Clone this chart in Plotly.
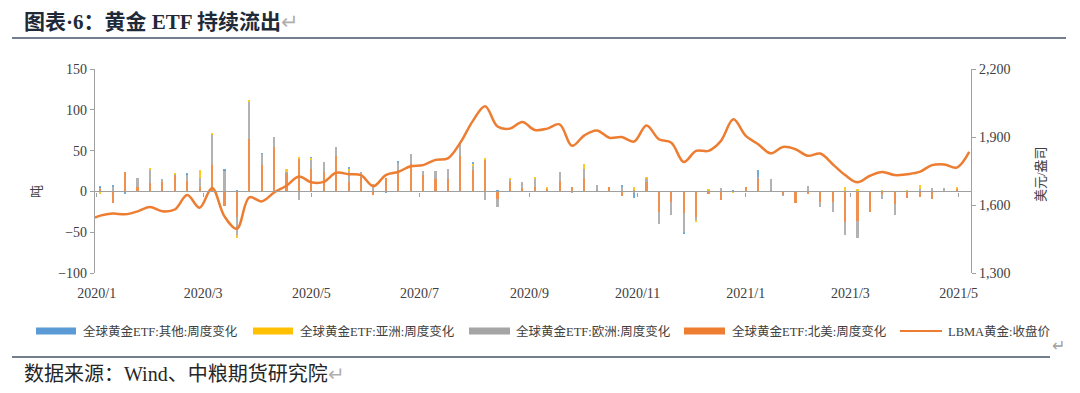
import pandas as pd
import plotly.graph_objects as go

# ---------------- data ----------------
week_dates = [d.strftime("%Y-%m-%d") for d in pd.date_range("2020-01-03", "2021-04-30", freq="7D")]

north_america = [3, -14, 24, 5, 10, 11, 20, 13, 6, 32, -18, -31, 64, 32,
                 55, 22, 40, 28, 24, 43, 12, 18, -4, 17, 26, 34, 20, 15, 15,
                 44, 26, 39, -9, 12, 4, 5, 3, 13, 6, 17, 1, 5, -6,
                 2, 12, -25, -13, -26, -31, -3, -11, 0, 6, 16, 1, -4, -14,
                 -3, -13, -13, -38, -36, -25, -3, -15, -8, -7, -9, 0, 3]
europe = [2, 6, 0, 11, 16, 4, 1, 8, 10, 38, 26, -22, 45, 14,
          12, 2, -10, 10, 12, 11, 13, 6, 9, 0, 9, 12, 5, 10, 13,
          17, 5, -10, -10, 3, 8, 10, 0, 11, -2, 11, 7, 0, 6,
          -2, 4, -15, -16, -24, -4, 1, 4, 0, 0, 2, 14, -2, 0,
          7, -6, -12, -15, -21, 0, -6, -14, 0, 3, 4, 4, 0]
asia = [-3, 0, 0, 0, 3, 0, 2, 0, 10, 2, 0, -4, 3, 0,
        0, 3, 2, 3, 0, 0, 3, 0, 0, 0, 0, 0, 0, 0, 0,
        0, 3, 1, 0, 2, 0, 3, 3, 0, 0, 5, 0, 0, 0,
        3, 1, 0, 0, 0, -3, 2, 0, -2, 0, 0, 0, 0, 0,
        0, 0, 0, 6, 3, 0, 2, 0, 1, 5, 0, 0, 2]
other = [2, 2, -3, 0, 0, 0, 0, 2, 0, 0, 1, 1, 0, 1,
         0, 0, 0, 1, 0, 0, 2, 0, 0, -2, 2, 0, 0, 0, 0,
         0, 2, 0, 1, 0, 0, 0, 0, 0, 0, 0, 0, 0, 2,
         -6, 0, 0, 0, -2, 0, 0, 0, 2, 0, 8, 0, 0, 0,
         0, 0, 0, 0, 0, 0, 0, 0, 0, 0, 0, 0, 0]

price_dates = ["2019-12-31"] + week_dates + ["2021-05-07"]
lbma_price = [1544,
              1553, 1562, 1559, 1572, 1591, 1572, 1580, 1644, 1588, 1675, 1550, 1495, 1634, 1616,
              1655, 1685, 1726, 1700, 1702, 1742, 1736, 1732, 1683, 1732, 1746, 1771, 1776, 1799, 1806,
              1875, 1970, 2036, 1946, 1937, 1966, 1931, 1937, 1956, 1861, 1907, 1929, 1897, 1900,
              1880, 1951, 1890, 1875, 1790, 1839, 1839, 1883, 1978, 1905, 1868, 1828, 1856, 1846,
              1817, 1827, 1780, 1732, 1700, 1729, 1746, 1732, 1736, 1746, 1776, 1779, 1765,
              1834]

x_tick_vals = ["2020-01-01", "2020-03-01", "2020-05-01", "2020-07-01", "2020-09-01",
               "2020-11-01", "2021-01-01", "2021-03-01", "2021-05-01"]
x_tick_text = ["2020/1", "2020/3", "2020/5", "2020/7", "2020/9", "2020/11",
               "2021/1", "2021/3", "2021/5"]
left_ticks = [-100, -50, 0, 50, 100, 150]
right_ticks = [1300, 1600, 1900, 2200]

series_names = ["全球黄金ETF:其他:周度变化", "全球黄金ETF:亚洲:周度变化",
                "全球黄金ETF:欧洲:周度变化", "全球黄金ETF:北美:周度变化"]
line_name = "LBMA黄金:收盘价"

# ---------------- style ----------------
C_OTHER, C_ASIA, C_EUR, C_NA = "#5B9BD5", "#FFC000", "#A5A5A5", "#ED7D31"
SERIF = "Liberation Serif, Noto Sans CJK SC"
OFF = 8  # page body margin
W, H = 1080 - OFF, 393 - OFF
# plot area in screen px (reference coordinates)
L, R, T, B = 95, 971, 69, 273


def px(x):
    return (x - L) / (R - L)


def py(y):
    return (B - y) / (B - T)


X_RANGE = ["2019-12-31", "2021-05-08"]
BAR_W = 1.2 * 86400000

fig = go.Figure()

bar_sets = [(north_america, C_NA, series_names[3]), (europe, C_EUR, series_names[2]),
            (asia, C_ASIA, series_names[1]), (other, C_OTHER, series_names[0])]
for vals, col, name in bar_sets:
    fig.add_trace(go.Bar(x=week_dates, y=vals, width=BAR_W, marker_color=col, name=name,
                         marker_line_width=0, opacity=0.85, showlegend=False,
                         xaxis="x", yaxis="y"))

fig.add_trace(go.Scatter(x=price_dates, y=lbma_price, mode="lines", name=line_name,
                         line=dict(color=C_NA, width=2.5, shape="spline", smoothing=1.0),
                         showlegend=False, xaxis="x", yaxis="y2"))

# invisible trace so the zero-line axis (x2) is drawn
fig.add_trace(go.Scatter(x=[None], y=[None], mode="lines", showlegend=False,
                         hoverinfo="skip", xaxis="x2", yaxis="y"))

tickfont = dict(family=SERIF, size=14, color="#404040")
AX = "#A0A0A0"

fig.update_layout(
    width=W, height=H,
    margin=dict(l=L - OFF, r=W - (R - OFF), t=T - OFF, b=H - (B - OFF), autoexpand=False),
    paper_bgcolor="white", plot_bgcolor="white",
    barmode="relative", bargap=0,
    showlegend=False,
    xaxis=dict(range=X_RANGE, type="date", tickvals=x_tick_vals, ticktext=x_tick_text,
               showgrid=False, zeroline=False, showline=False,
               ticks="outside", ticklen=7, tickcolor="rgba(0,0,0,0)",
               tickfont=tickfont),
    xaxis2=dict(range=X_RANGE, type="date", overlaying="x", anchor="free", position=0.4,
                side="bottom", tickvals=x_tick_vals, showticklabels=False,
                showgrid=False, zeroline=False, showline=True, linecolor=AX, linewidth=1.3,
                ticks="outside", ticklen=4, tickcolor=AX, tickwidth=1),
    yaxis=dict(range=[-100, 150], tickvals=left_ticks, showgrid=False, zeroline=False,
               showline=True, linecolor=AX, linewidth=1.3, ticks="outside", ticklen=4,
               tickcolor=AX, tickfont=tickfont),
    yaxis2=dict(range=[1300, 2200], tickvals=right_ticks, tickformat=",d", overlaying="y",
                side="right", showgrid=False, zeroline=False, showline=True, linecolor=AX,
                linewidth=1.3, ticks="outside", ticklen=4, tickcolor=AX, tickfont=tickfont),
)

annotations = [
    dict(x=px(22), y=py(22), xref="paper", yref="paper", xanchor="left", yanchor="middle",
         text="<b>图表·6：黄金 ETF 持续流出</b><span style='color:#B0B0B0'>↵</span>",
         showarrow=False, font=dict(family=SERIF, size=21, color="#1E2A38")),
    dict(x=px(22), y=py(374), xref="paper", yref="paper", xanchor="left", yanchor="middle",
         text="数据来源：Wind、中粮期货研究院<span style='color:#B0B0B0'>↵</span>",
         showarrow=False, font=dict(family=SERIF, size=20, color="#262626")),
    dict(x=px(1058), y=py(345), xref="paper", yref="paper", xanchor="center", yanchor="middle",
         text="↵", showarrow=False, font=dict(family=SERIF, size=16, color="#A0A0A0")),
    dict(x=px(36), y=py(192), xref="paper", yref="paper", xanchor="center", yanchor="middle",
         text="吨", textangle=-90, showarrow=False,
         font=dict(family=SERIF, size=13, color="#404040")),
    dict(x=px(1040), y=py(174), xref="paper", yref="paper", xanchor="center", yanchor="middle",
         text="美元/盎司", textangle=-90, showarrow=False,
         font=dict(family=SERIF, size=13, color="#404040")),
]

shapes = [
    dict(type="line", xref="paper", yref="paper", x0=px(12), x1=px(1066), y0=py(38), y1=py(38),
         line=dict(color="#44546A", width=1.5)),
    dict(type="line", xref="paper", yref="paper", x0=px(12), x1=px(1050), y0=py(357), y1=py(357),
         line=dict(color="#44546A", width=1.5)),
]

# custom legend (wide swatches like the original)
LEG_Y = 331
legend_items = [  # (swatch x0, swatch x1, text x, colour, kind, label)
    (36, 76, 81, C_OTHER, "rect", series_names[0]),
    (253, 293, 298, C_ASIA, "rect", series_names[1]),
    (469, 510, 514, C_EUR, "rect", series_names[2]),
    (684, 725, 730, C_NA, "rect", series_names[3]),
    (900, 942, 946, C_NA, "line", line_name),
]
for x0, x1, tx, col, kind, label in legend_items:
    if kind == "rect":
        shapes.append(dict(type="rect", xref="paper", yref="paper", x0=px(x0), x1=px(x1),
                           y0=py(LEG_Y + 3.5), y1=py(LEG_Y - 3.5), fillcolor=col,
                           line=dict(width=0)))
    else:
        shapes.append(dict(type="line", xref="paper", yref="paper", x0=px(x0), x1=px(x1),
                           y0=py(LEG_Y), y1=py(LEG_Y), line=dict(color=col, width=2)))
    annotations.append(dict(x=px(tx), y=py(LEG_Y), xref="paper", yref="paper",
                            xanchor="left", yanchor="middle", text=label, showarrow=False,
                            font=dict(family=SERIF, size=12.5, color="#404040")))

fig.update_layout(annotations=annotations, shapes=shapes)

fig.write_html("out.html")
